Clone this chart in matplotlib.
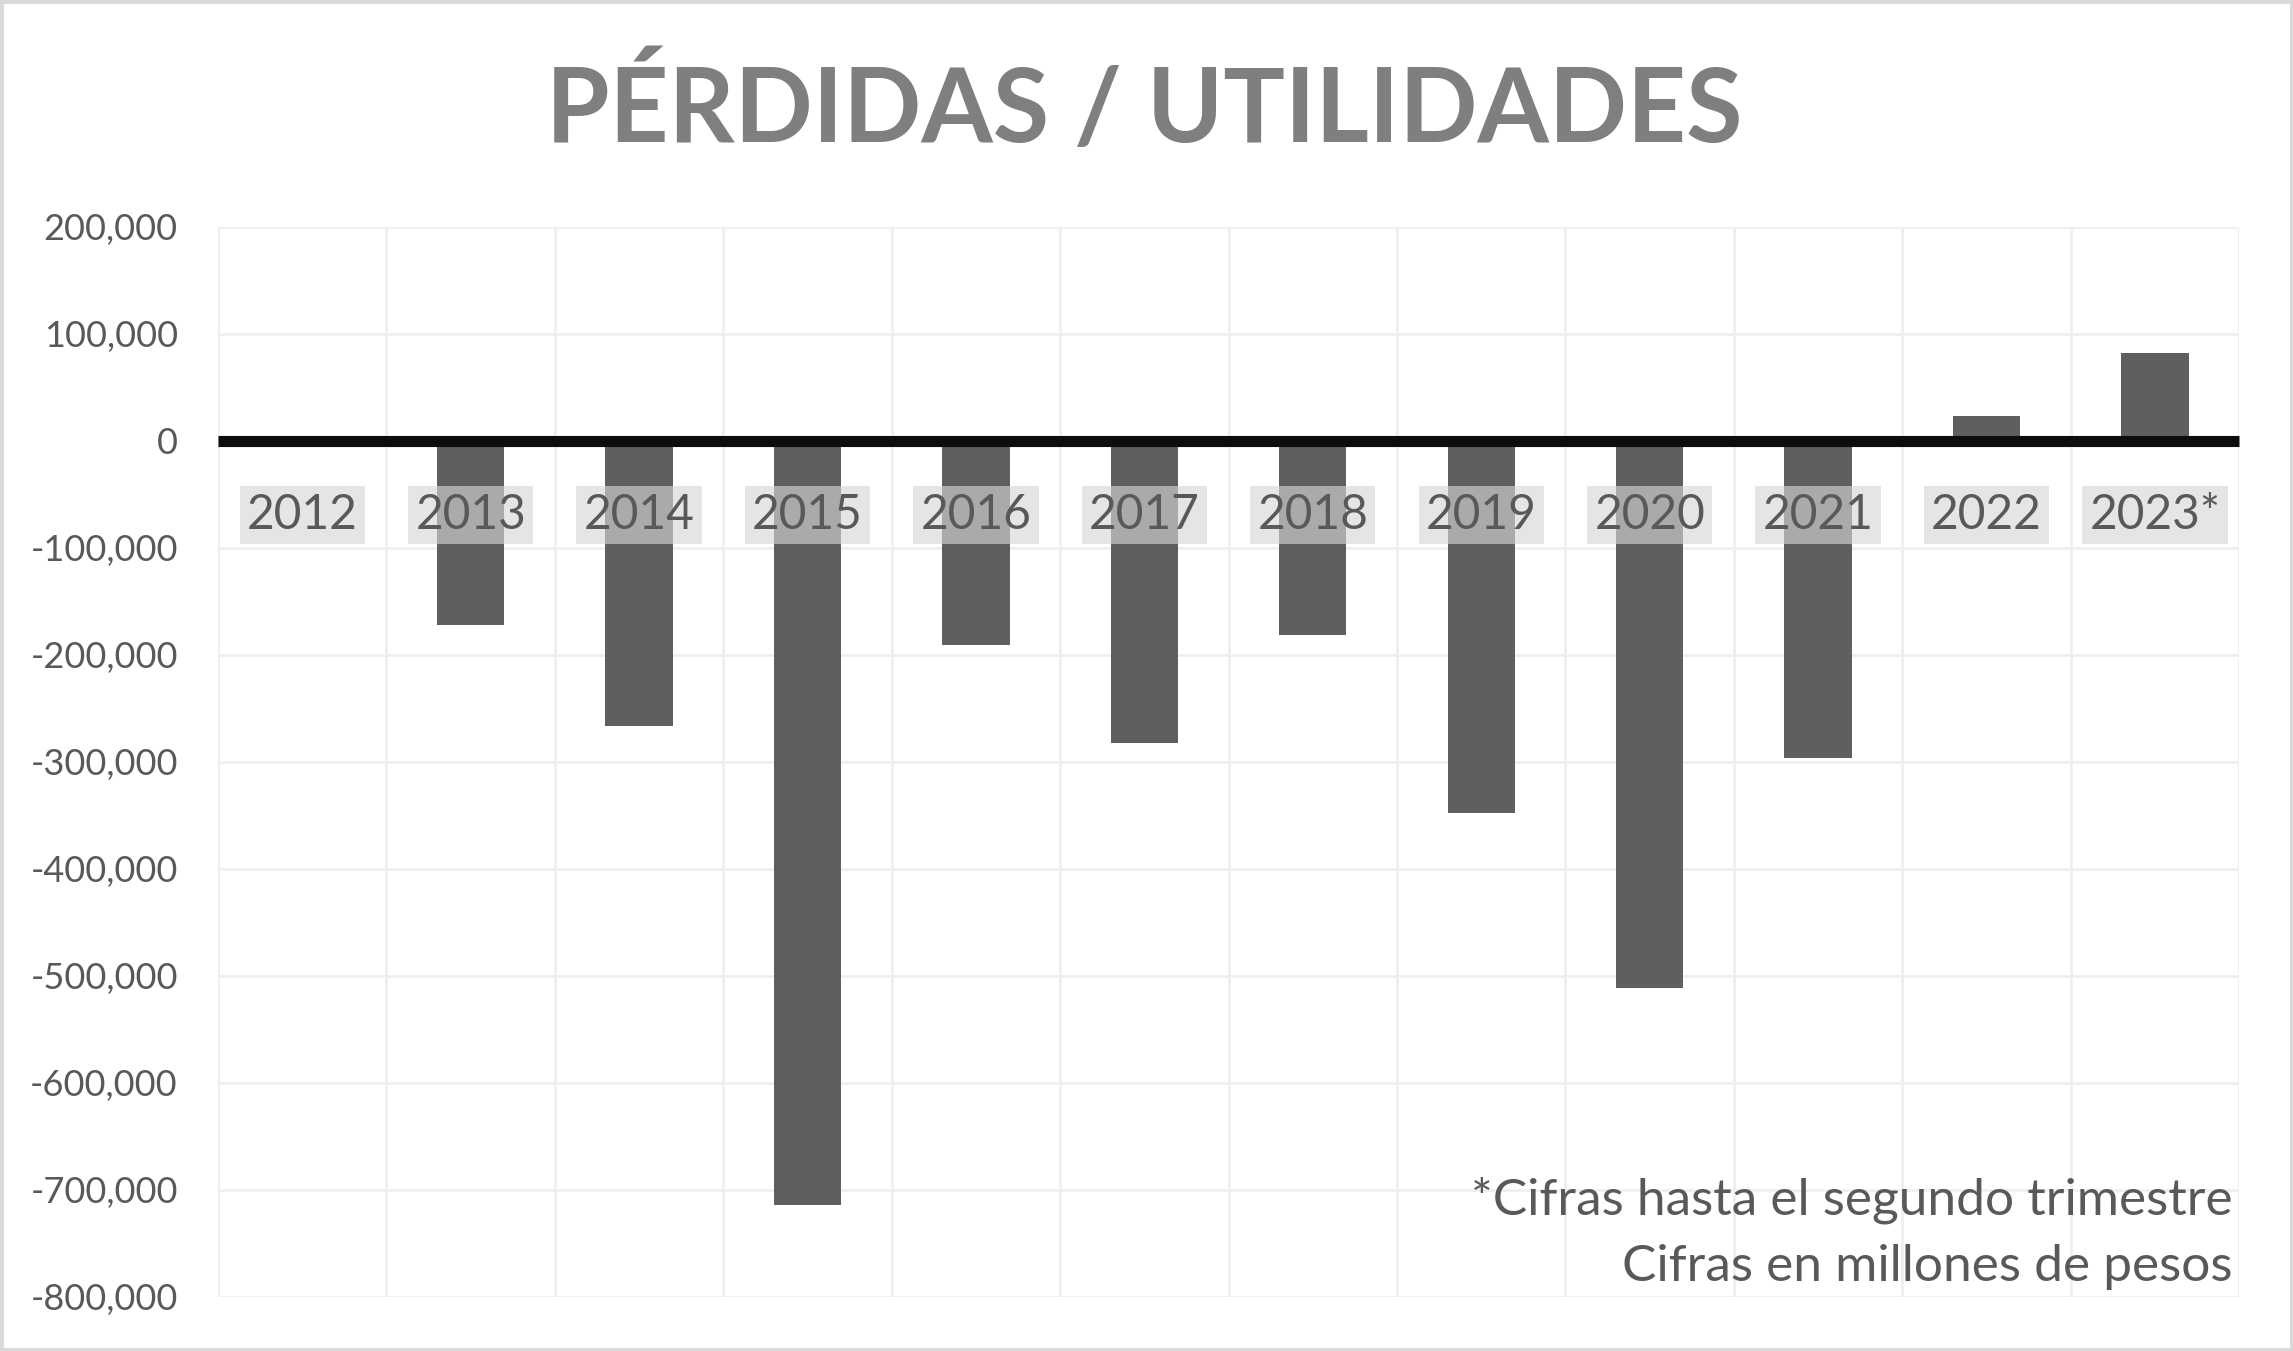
import matplotlib.pyplot as plt
from matplotlib.patches import Rectangle
from matplotlib.ticker import FuncFormatter, MultipleLocator

plt.rcParams['font.family'] = ['Lato', 'DejaVu Sans']

years = ['2012', '2013', '2014', '2015', '2016', '2017',
         '2018', '2019', '2020', '2021', '2022', '2023*']
values = [0, -172000, -266000, -714000, -191000, -282000,
          -181000, -348000, -511000, -296000, 23000, 82000]

title = 'PÉRDIDAS / UTILIDADES'
notes = ['*Cifras hasta el segundo trimestre', 'Cifras en millones de pesos']

text_grey = '#595959'
bar_grey = '#5f5f5f'
grid_grey = '#efefef'

fig = plt.figure(figsize=(22.93, 13.51), dpi=100)
ax = fig.add_axes([0.0951, 0.040, 0.8814, 0.792])

x = list(range(len(years)))
ax.bar(x, values, width=0.4, color=bar_grey, zorder=2)

ax.set_xlim(-0.5, len(years) - 0.5)
ax.set_ylim(-800000, 200000)

# y axis
ax.yaxis.set_major_locator(MultipleLocator(100000))
ax.yaxis.set_major_formatter(FuncFormatter(lambda v, p: f'{int(v):,}'))
ax.tick_params(axis='y', length=0, pad=29, labelsize=26, labelcolor=text_grey)

# x axis: thick zero line, category borders as grid
ax.set_xticks([])
ax.set_xticks([i - 0.5 for i in range(len(years) + 1)], minor=True)
ax.tick_params(axis='x', which='both', length=0, labelbottom=False)
ax.grid(True, which='major', axis='y', color=grid_grey, lw=2, zorder=0)
ax.grid(True, which='minor', axis='x', color=grid_grey, lw=2, zorder=0)

for s in ['top', 'right', 'left']:
    ax.spines[s].set_visible(False)
ax.spines['bottom'].set_position(('data', 0))
ax.spines['bottom'].set_linewidth(8)
ax.spines['bottom'].set_color('#0d0d0d')
ax.spines['bottom'].set_capstyle('butt')
ax.spines['bottom'].set_zorder(4)

# category labels with translucent boxes, just under the zero line
label_y = -69000
for i, yr in enumerate(years):
    ax.text(i, label_y, yr, ha='center', va='center', fontsize=34.5,
            color=text_grey, zorder=5,
            bbox=dict(boxstyle='square,pad=0.15', facecolor='#d7d7d7',
                      edgecolor='none', alpha=0.63))

fig.text(0.499, 0.8949, title, ha='center', va='baseline', fontsize=74,
         fontweight='bold', color='#7f7f7f')

fig.text(0.9738, 1 - 1200 / 1351, notes[0], ha='right', va='center',
         fontsize=37, color=text_grey)
fig.text(0.9738, 1 - 1267 / 1351, notes[1], ha='right', va='center',
         fontsize=37, color=text_grey)

fig.patches.append(Rectangle((0, 0), 1, 1, transform=fig.transFigure,
                             fill=False, edgecolor='#d9d9d9', lw=5))

fig.savefig('out.png', dpi=100)
